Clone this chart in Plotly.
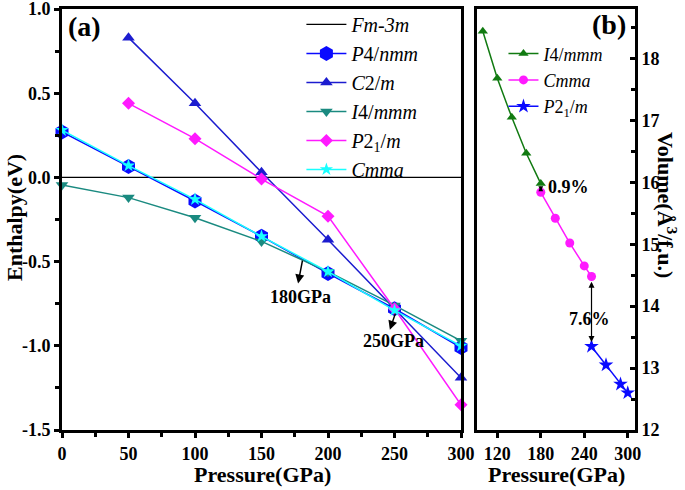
import plotly.graph_objects as go

# ---------------- data ----------------
P_a = [0, 50, 100, 150, 200, 250, 300]
fm3m = [0, 0, 0, 0, 0, 0, 0]
p4nmm = [0.27, 0.065, -0.14, -0.35, -0.57, -0.78, -1.01]
c2m_P = [50, 100, 150, 200, 250, 300]
c2m = [0.83, 0.44, 0.03, -0.37, -0.78, -1.19]
i4mmm = [-0.045, -0.12, -0.24, -0.38, -0.56, -0.76, -0.97]
p21m_P = [50, 100, 150, 200, 250, 300]
p21m = [0.44, 0.23, -0.01, -0.23, -0.78, -1.35]
cmma = [0.28, 0.07, -0.13, -0.35, -0.56, -0.79, -1.00]

Pb_i4 = [100, 120, 140, 160, 180]
Vb_i4 = [18.44, 17.68, 17.05, 16.47, 15.98]
Pb_cmma = [180, 200, 220, 240, 250]
Vb_cmma = [15.84, 15.42, 15.02, 14.65, 14.48]
Pb_p21 = [250, 270, 290, 300]
Vb_p21 = [13.35, 13.05, 12.74, 12.60]

FONT = "Liberation Serif"
BLUE = "#0a0aff"
BLUE2 = "#1c1ccf"
TEAL = "#1a8a80"
MAG = "#ff1aff"
CYAN = "#18ffff"
GREEN = "#117a11"

fig = go.Figure()

def add(x, y, name, color, symbol=None, size=10, xa="x", ya="y", legend="legend", lw=1.5):
    mode = "lines" if symbol is None else "lines+markers"
    fig.add_trace(go.Scatter(
        x=x, y=y, name=name, mode=mode, xaxis=xa, yaxis=ya, legend=legend,
        line=dict(color=color, width=lw),
        marker=dict(symbol=symbol or "circle", size=size, color=color,
                    line=dict(width=0)),
        cliponaxis=False,
    ))

add(P_a, fm3m, "<i>Fm-3m</i>", "black", lw=1.2)
add(P_a, p4nmm, "<i>P</i>4/<i>nmm</i>", BLUE, "hexagon", 15)
add(c2m_P, c2m, "<i>C</i>2/<i>m</i>", BLUE2, "triangle-up", 11)
add(P_a, i4mmm, "<i>I</i>4/<i>mmm</i>", TEAL, "triangle-down", 11)
add(p21m_P, p21m, "<i>P</i>2<sub>1</sub>/<i>m</i>", MAG, "diamond", 10)
add(P_a, cmma, "<i>Cmma</i>", CYAN, "star", 10)

add(Pb_i4, Vb_i4, "<i>I</i>4/<i>mmm</i>", GREEN, "triangle-up", 9, "x2", "y2", "legend2")
add(Pb_cmma, Vb_cmma, "<i>Cmma</i>", MAG, "circle", 9, "x2", "y2", "legend2")
add(Pb_p21, Vb_p21, "<i>P</i>2<sub>1</sub>/<i>m</i>", BLUE, "star", 11, "x2", "y2", "legend2")

W, H = 685, 490
xa_dom = [62 / W, 461 / W]
xb_dom = [477 / W, 635 / W]
y_dom = [1 - 430 / H, 1 - 9 / H]

tickfont = dict(family=FONT, size=18, color="black", weight="bold")
axis_common = dict(showline=True, linecolor="black", linewidth=3, mirror=True,
                   showgrid=False, zeroline=False, ticklen=5,
                   tickwidth=3, tickcolor="black", tickfont=tickfont, automargin=False,
                   ticklabeloverflow="allow")

fig.update_layout(
    width=W, height=H, margin=dict(l=0, r=0, t=0, b=0, autoexpand=False),
    plot_bgcolor="white", paper_bgcolor="white",
    font=dict(family=FONT, color="black"),
    xaxis=dict(domain=xa_dom, range=[0, 300], tickvals=[0, 50, 100, 150, 200, 250, 300],
               ticks="outside",
               minor=dict(dtick=25, tick0=0, ticklen=4, tickwidth=3, tickcolor="black", ticks="outside"),
               anchor="y", **axis_common),
    yaxis=dict(domain=y_dom, range=[-1.5, 1.0], tickvals=[-1.5, -1.0, -0.5, 0.0, 0.5, 1.0],
               ticktext=["-1.5", "-1.0", "-0.5", "0.0", "0.5", "1.0"], ticks="outside",
               minor=dict(dtick=0.25, tick0=0, ticklen=4, tickwidth=3, tickcolor="black", ticks="outside"),
               anchor="x", **axis_common),
    xaxis2=dict(domain=xb_dom, range=[92, 310], tickvals=[120, 180, 240, 300], ticks="outside",
                anchor="y2", **axis_common),
    yaxis2=dict(domain=y_dom, range=[12, 18.8], tickvals=[12, 13, 14, 15, 16, 17, 18],
                side="right", anchor="x2", ticks="inside",
                minor=dict(dtick=0.5, tick0=12, ticklen=4, tickwidth=3, tickcolor="black", ticks="inside"),
                **axis_common),
    legend=dict(x=0.44, y=0.99, xanchor="left", yanchor="top", bgcolor="rgba(0,0,0,0)",
                font=dict(family=FONT, size=20, color="black"), tracegroupgap=0,
                itemwidth=40),
    legend2=dict(x=0.735, y=0.928, xanchor="left", yanchor="top", bgcolor="rgba(0,0,0,0)",
                 font=dict(family=FONT, size=18, color="black"), tracegroupgap=0,
                 itemwidth=30),
    showlegend=True,
)

lab = dict(family=FONT, size=22, color="black", weight="bold")
ann = []
def pann(text, px, py, **kw):
    d = dict(text=text, x=px / W, y=1 - py / H, xref="paper", yref="paper",
             xanchor="center", yanchor="middle", showarrow=False, font=lab)
    d.update(kw)
    ann.append(d)

# axis titles
pann("Enthalpy(eV)", 14, 218, textangle=-90)
pann("Pressure(GPa)", 262, 474)
pann("Pressure(GPa)", 556, 474)
pann("Volume(Å<sup>3</sup>/f.u.)", 667, 205, textangle=90)
# panel labels
pann("(a)", 84, 27, font=dict(family=FONT, size=28, color="black", weight="bold"))
pann("(b)", 609, 25, font=dict(family=FONT, size=28, color="black", weight="bold"))

small = dict(family=FONT, size=18, color="black", weight="bold")
# arrows panel a
ann.append(dict(x=177.5, y=-0.63, ax=181, ay=-0.485, xref="x", yref="y", axref="x", ayref="y",
                text="", showarrow=True, arrowhead=2, arrowsize=1.2, arrowwidth=1.5, arrowcolor="black"))
ann.append(dict(x=179, y=-0.71, xref="x", yref="y", text="180GPa", showarrow=False, font=small))
ann.append(dict(x=246.5, y=-0.905, ax=251, ay=-0.80, xref="x", yref="y", axref="x", ayref="y",
                text="", showarrow=True, arrowhead=2, arrowsize=1.2, arrowwidth=1.5, arrowcolor="black"))
ann.append(dict(x=249.5, y=-0.97, xref="x", yref="y", text="250GPa", showarrow=False, font=small))
# arrows panel b
ann.append(dict(x=180, y=15.86, ax=180, ay=15.96, xref="x2", yref="y2", axref="x2", ayref="y2",
                text="", showarrow=True, arrowhead=2, arrowside="end+start", arrowsize=0.8,
                arrowwidth=1.2, arrowcolor="black"))
ann.append(dict(x=187, y=15.92, xref="x2", yref="y2", text="0.9%", xanchor="left", showarrow=False,
                font=small))
ann.append(dict(x=250, y=13.42, ax=250, ay=14.42, xref="x2", yref="y2", axref="x2", ayref="y2",
                text="", showarrow=True, arrowhead=2, arrowside="end+start", arrowsize=1,
                arrowwidth=1.2, arrowcolor="black"))
ann.append(dict(x=247, y=13.79, xref="x2", yref="y2", text="7.6%", showarrow=False, font=small))
fig.update_layout(annotations=ann)

fig.write_html("out.html", config={"displayModeBar": False},
               post_script="document.body.style.margin='0px';")
